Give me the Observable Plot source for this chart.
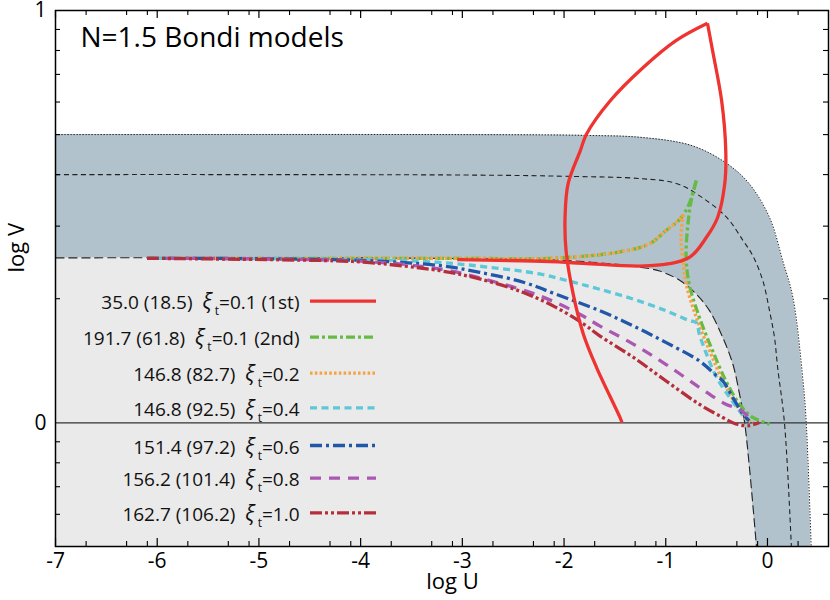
<!DOCTYPE html>
<html>
<head>
<meta charset="utf-8">
<script src="https://cdn.jsdelivr.net/npm/d3@7"></script>
<script src="https://cdn.jsdelivr.net/npm/@observablehq/plot@0.6"></script>
<style>
  body { margin: 0; background: #fff; }
  #chart svg { display: block; }
</style>
</head>
<body>
<div id="chart"></div>
<script>
// ---------------- DATA ----------------
const title = "N=1.5 Bondi models";
const xLabel = "log U";
const yLabel = "log V";

const xMajorTicks = [-7, -6, -5, -4, -3, -2, -1, 0];
const xMinorTicks = [-6.699, -6.301, -6.097, -5.699, -5.301, -5.097, -4.699, -4.301, -4.097,
  -3.699, -3.301, -3.097, -2.699, -2.301, -2.097, -1.699, -1.301, -1.097, -0.699, -0.301, -0.097, 0.301];
const yMajorTicks = [0, 1];
const yMinorTicks = [-0.222, -0.155, -0.097, -0.046, 0.301, 0.477, 0.602, 0.699, 0.778, 0.845, 0.903, 0.954];

// boundary curves
const lowU = [-7, -4, -2.5, -2.0, -1.65, -1.33, -1.06, -0.86, -0.70, -0.57, -0.44, -0.34, -0.275, -0.226, -0.177, -0.108];
const lowV = [0.400, 0.400, 0.397, 0.394, 0.388, 0.380, 0.368, 0.345, 0.312, 0.272, 0.207, 0.142, 0.070, 0.003, -0.109, -0.301];
const midU = [-7, -3, -2.0, -1.23, -0.89, -0.64, -0.40, -0.24, -0.144, -0.046, 0.02, 0.069, 0.10, 0.167, 0.235];
const midV = [0.602, 0.601, 0.598, 0.592, 0.580, 0.546, 0.498, 0.442, 0.405, 0.345, 0.272, 0.207, 0.134, 0.0, -0.301];
const outU = [-7, -3, -1.78, -1.23, -0.74, -0.40, -0.18, 0.02, 0.15, 0.25, 0.35, 0.38, 0.43];
const outV = [0.699, 0.699, 0.697, 0.692, 0.672, 0.629, 0.580, 0.498, 0.393, 0.304, 0.10, 0.005, -0.301];

// model curves
const red1U = [-3.05, -2.14, -1.81, -1.16, -0.77, -0.60, -0.49, -0.42, -0.41, -0.45, -0.54, -0.59];
const red1V = [0.396, 0.391, 0.387, 0.381, 0.401, 0.450, 0.498, 0.580, 0.660, 0.780, 0.903, 0.969];
const red2U = [-0.59, -0.90, -1.23, -1.55, -1.78, -1.84, -1.96, -1.99, -1.98, -1.91, -1.81, -1.68, -1.45, -1.43];
const red2V = [0.969, 0.927, 0.860, 0.780, 0.700, 0.660, 0.580, 0.500, 0.417, 0.312, 0.215, 0.134, 0.013, 0.000];

const green1U = [-6.1, -4.0, -3.0, -2.14, -1.49, -1.16, -1.0, -0.86, -0.77, -0.70];
const green1V = [0.399, 0.399, 0.399, 0.399, 0.413, 0.434, 0.466, 0.494, 0.531, 0.588];
const green2U = [-0.70, -0.75, -0.785, -0.80, -0.77, -0.67, -0.54, -0.41, -0.275, -0.144, 0.02];
const green2V = [0.588, 0.539, 0.474, 0.401, 0.337, 0.256, 0.175, 0.102, 0.045, 0.013, -0.003];

const orange1U = [-6.1, -4.0, -3.0, -2.14, -1.49, -1.16, -1.0, -0.88, -0.83];
const orange1V = [0.399, 0.399, 0.399, 0.399, 0.413, 0.434, 0.466, 0.490, 0.505];
const orange2U = [-0.83, -0.85, -0.83, -0.80, -0.70, -0.57, -0.44, -0.31, -0.21, -0.14];
const orange2V = [0.505, 0.450, 0.393, 0.337, 0.256, 0.175, 0.102, 0.045, 0.009, 0.001];

const cyanU = [-6.1, -4.0, -3.22, -2.73, -2.24, -1.91, -1.65, -1.32, -1.0, -0.77, -0.70, -0.67, -0.60, -0.50, -0.37, -0.275, -0.19];
const cyanV = [0.399, 0.396, 0.389, 0.377, 0.361, 0.341, 0.324, 0.300, 0.272, 0.248, 0.243, 0.215, 0.167, 0.110, 0.061, 0.029, 0.005];

const blueU = [-6.1, -4.0, -3.22, -2.83, -2.40, -2.08, -1.65, -1.32, -1.0, -0.67, -0.50, -0.44, -0.34, -0.24, -0.18];
const blueV = [0.399, 0.394, 0.381, 0.365, 0.341, 0.312, 0.272, 0.235, 0.195, 0.150, 0.114, 0.102, 0.061, 0.021, 0.005];

const purpleU = [-6.1, -4.0, -3.22, -2.73, -2.24, -1.85, -1.65, -1.32, -1.0, -0.67, -0.41, -0.275, -0.21, -0.17];
const purpleV = [0.399, 0.392, 0.373, 0.345, 0.308, 0.264, 0.235, 0.191, 0.142, 0.086, 0.045, 0.033, 0.020, 0.005];

const dredU = [-6.1, -4.27, -3.94, -3.22, -2.83, -2.40, -2.08, -1.81, -1.65, -1.32, -1.0, -0.67, -0.44, -0.31, -0.18, -0.08];
const dredV = [0.399, 0.393, 0.389, 0.369, 0.349, 0.316, 0.280, 0.240, 0.211, 0.159, 0.102, 0.045, 0.013, -0.003, -0.007, 0.001];

// legend texts
const legendNums = ["35.0 (18.5)", "191.7 (61.8)", "146.8 (82.7)", "146.8 (92.5)", "151.4 (97.2)", "156.2 (101.4)", "162.7 (106.2)"];
const legendXi = ["0.1 (1st)", "0.1 (2nd)", "0.2", "0.4", "0.6", "0.8", "1.0"];

// ---------------- LAYOUT / STYLE ----------------
const W = 830, H = 600, ML = 55, MR = 2, MT = 10, MB = 54;
const X_DOMAIN = [-7, 0.6], Y_DOMAIN = [-0.3, 1];
const FW = W - ML - MR, FH = H - MT - MB;
const px2x = px => X_DOMAIN[0] + (px - ML) / FW * (X_DOMAIN[1] - X_DOMAIN[0]);
const py2y = py => Y_DOMAIN[1] - (py - MT) / FH * (Y_DOMAIN[1] - Y_DOMAIN[0]);
const FONT = "'Open Sans', 'Noto Sans', sans-serif";

const rows = (U, V) => U.map((u, i) => ({u, v: V[i]}));

// series in legend order
const series = [
  {segs: [[red1U, red1V], [red2U, red2V]], stroke: "#ee3330", dash: null},
  {segs: [[green1U, green1V], [green2U, green2V]], stroke: "#66bb44", dash: "9,3,3,3"},
  {segs: [[orange1U, orange1V], [orange2U, orange2V]], stroke: "#f5a445", dash: "2.6,2.2"},
  {segs: [[cyanU, cyanV]], stroke: "#5cc8d8", dash: "7,4.5"},
  {segs: [[blueU, blueV]], stroke: "#2157a8", dash: "12,4,3,4"},
  {segs: [[purpleU, purpleV]], stroke: "#aa58b2", dash: "11,8"},
  {segs: [[dredU, dredV]], stroke: "#b42f3b", dash: "12,3,3,3,3,3"}
];
const drawOrder = [1, 2, 3, 4, 5, 6, 0];
const legendRowPy = [300.7, 336.7, 372.7, 407.3, 445, 477.7, 512.3];
const legendTextEndPx = 299, sampleX1Px = 310, sampleX2Px = 376;

const marks = [];
// background regions
marks.push(Plot.areaY(rows(outU, outV), {x: "u", y1: Y_DOMAIN[0], y2: "v", fill: "#b2c2cc", curve: "catmull-rom", clip: true}));
marks.push(Plot.areaY(rows(lowU, lowV), {x: "u", y1: Y_DOMAIN[0], y2: "v", fill: "#eaeaea", curve: "catmull-rom", clip: true}));
// boundary lines
const bnd = {x: "u", y: "v", stroke: "#222", strokeLinecap: "butt", curve: "catmull-rom", clip: true};
marks.push(Plot.line(rows(outU, outV), {...bnd, strokeWidth: 1, strokeDasharray: "1.4,1.6"}));
marks.push(Plot.line(rows(midU, midV), {...bnd, strokeWidth: 1.1, strokeDasharray: "5,3.5"}));
marks.push(Plot.line(rows(lowU, lowV), {...bnd, strokeWidth: 1.1, strokeDasharray: "9,4"}));
// zero line
marks.push(Plot.ruleY([0], {stroke: "#333", strokeWidth: 1.3}));
// model curves
for (const k of drawOrder) {
  const s = series[k];
  for (const [U, V] of s.segs) {
    marks.push(Plot.line(rows(U, V), {x: "u", y: "v", stroke: s.stroke, strokeWidth: 3.3,
      strokeLinecap: "butt", strokeLinejoin: "round",
      strokeDasharray: s.dash, curve: "catmull-rom", clip: true}));
  }
}
// legend
series.forEach((s, k) => {
  marks.push(Plot.ruleY([py2y(legendRowPy[k])], {x1: px2x(sampleX1Px), x2: px2x(sampleX2Px),
    stroke: s.stroke, strokeWidth: 3.3, strokeLinecap: "butt", strokeDasharray: s.dash}));
});
const legendRows = legendNums.map((n, k) => ({text: `${n}  ξt=${legendXi[k]}`, y: py2y(legendRowPy[k])}));
marks.push(Plot.text(legendRows, {text: "text", y: "y", frameAnchor: "left", dx: legendTextEndPx - ML, dy: 2,
  textAnchor: "end", fontSize: 19, fill: "#111"}));
// title
marks.push(Plot.text([title], {frameAnchor: "top-left", dx: 25, dy: 17, lineAnchor: "top", fontSize: 28, fill: "#000"}));
// axis labels
marks.push(Plot.text([xLabel], {frameAnchor: "bottom", dx: 452 - (ML + FW / 2), dy: 42, fontSize: 22, fill: "#000"}));
marks.push(Plot.text([yLabel], {frameAnchor: "left", dx: 16 - ML, dy: 272 - (MT + FH / 2), rotate: -90, fontSize: 22, fill: "#000"}));
// inward ticks on all four sides
const MAJ = 8, MIN = 5;
marks.push(Plot.tickX(xMajorTicks, {x: d => d, insetTop: FH - MAJ, stroke: "#000", strokeWidth: 1.2}));
marks.push(Plot.tickX(xMinorTicks, {x: d => d, insetTop: FH - MIN, stroke: "#000", strokeWidth: 1.1}));
marks.push(Plot.tickX(xMajorTicks, {x: d => d, insetBottom: FH - MAJ, stroke: "#000", strokeWidth: 1.2}));
marks.push(Plot.tickX(xMinorTicks, {x: d => d, insetBottom: FH - MIN, stroke: "#000", strokeWidth: 1.1}));
marks.push(Plot.tickY(yMinorTicks, {y: d => d, insetRight: FW - MIN, stroke: "#000", strokeWidth: 1.1}));
marks.push(Plot.tickY(yMinorTicks, {y: d => d, insetLeft: FW - MIN, stroke: "#000", strokeWidth: 1.1}));
marks.push(Plot.frame({stroke: "#000", strokeWidth: 1.5}));

const chart = Plot.plot({
  width: W, height: H,
  marginLeft: ML, marginRight: MR, marginTop: MT, marginBottom: MB,
  x: {domain: X_DOMAIN, ticks: xMajorTicks, tickSize: 0, tickPadding: 7,
      tickFormat: d => (d < 0 ? "-" + Math.abs(d) : String(d)), label: null},
  y: {domain: Y_DOMAIN, ticks: yMajorTicks, tickSize: 0, tickPadding: 9,
      tickFormat: d => String(d), label: null},
  style: {fontFamily: FONT, fontSize: "21px", color: "#000", background: "#fff", overflow: "visible"},
  marks
});

// subscript "t" after ξ in legend labels
const NS = "http://www.w3.org/2000/svg";
chart.querySelectorAll("text").forEach(t => {
  const s = t.textContent;
  const i = s.indexOf("ξt=");
  if (i < 0) return;
  const a = s.slice(0, i), rest = s.slice(i + 2);
  t.textContent = "";
  const p1 = document.createElementNS(NS, "tspan"); p1.textContent = a;
  const p2 = document.createElementNS(NS, "tspan"); p2.textContent = "ξ"; p2.setAttribute("font-style", "italic"); p2.setAttribute("font-size", "21");
  const p3 = document.createElementNS(NS, "tspan"); p3.textContent = "t"; p3.setAttribute("font-size", "12"); p3.setAttribute("dy", "6"); p3.setAttribute("dx", "3");
  const p4 = document.createElementNS(NS, "tspan"); p4.textContent = rest; p4.setAttribute("dy", "-6");
  t.append(p1, p2, p3, p4);
});

document.getElementById("chart").append(chart);
</script>
</body>
</html>
